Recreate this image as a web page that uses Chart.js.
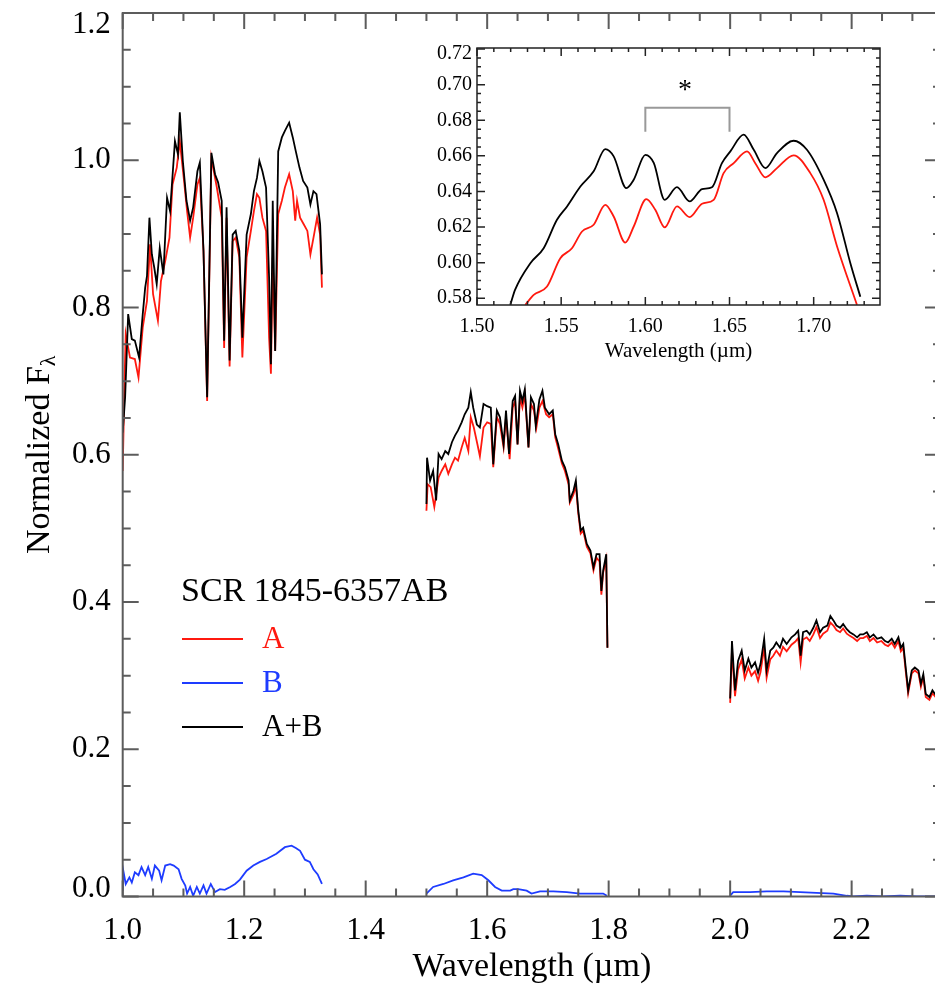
<!DOCTYPE html>
<html>
<head>
<meta charset="utf-8">
<script src="https://cdn.jsdelivr.net/npm/chart.js@4.4.1/dist/chart.umd.min.js"></script>
<style>
  html, body { margin: 0; padding: 0; background: #fff; overflow: hidden; }
  #wrap { position: relative; width: 935px; height: 987px; overflow: hidden; }
  #main { position: absolute; left: 0; top: 0; }
  #inset { position: absolute; left: 400px; top: 40px; }
</style>
</head>
<body>
<div id="wrap">
  <canvas id="main" width="945" height="987"></canvas>
  <canvas id="inset" width="500" height="330"></canvas>
</div>
<script>
// ---- data: [wavelength (um), normalized flux] ----
const jBandAB = [[1.000,0.630],[1.004,0.678],[1.009,0.791],[1.015,0.757],[1.020,0.755],[1.027,0.732],[1.033,0.791],[1.037,0.827],[1.040,0.843],[1.044,0.922],[1.048,0.872],[1.052,0.854],[1.056,0.832],[1.061,0.881],[1.067,0.845],[1.073,0.949],[1.078,0.931],[1.086,1.026],[1.091,1.008],[1.094,1.065],[1.099,0.999],[1.105,0.945],[1.111,0.918],[1.116,0.936],[1.123,0.985],[1.127,0.997],[1.133,0.877],[1.139,0.678],[1.146,1.010],[1.152,0.981],[1.157,0.970],[1.163,0.945],[1.167,0.755],[1.171,0.936],[1.176,0.728],[1.181,0.899],[1.186,0.904],[1.192,0.877],[1.197,0.759],[1.204,0.899],[1.211,0.927],[1.216,0.958],[1.221,0.976],[1.225,0.999],[1.230,0.985],[1.236,0.963],[1.241,0.841],[1.244,0.723],[1.247,0.945],[1.251,0.741],[1.256,1.012],[1.262,1.031],[1.267,1.040],[1.274,1.051],[1.280,1.031],[1.285,1.012],[1.291,0.990],[1.297,0.972],[1.304,0.963],[1.309,0.940],[1.314,0.958],[1.319,0.954],[1.325,0.913],[1.328,0.845]];
const jBandA = [[1.000,0.578],[1.003,0.700],[1.005,0.764],[1.012,0.732],[1.020,0.730],[1.026,0.705],[1.033,0.773],[1.040,0.809],[1.045,0.886],[1.050,0.818],[1.058,0.782],[1.063,0.836],[1.070,0.863],[1.077,0.895],[1.082,0.967],[1.089,0.990],[1.094,1.026],[1.101,0.972],[1.106,0.931],[1.111,0.895],[1.116,0.922],[1.123,0.967],[1.127,0.976],[1.133,0.877],[1.139,0.673],[1.146,1.003],[1.155,0.963],[1.163,0.922],[1.167,0.745],[1.171,0.922],[1.176,0.720],[1.181,0.890],[1.186,0.895],[1.192,0.868],[1.197,0.732],[1.204,0.868],[1.211,0.904],[1.216,0.931],[1.221,0.954],[1.225,0.949],[1.230,0.922],[1.236,0.904],[1.241,0.759],[1.244,0.710],[1.247,0.868],[1.251,0.741],[1.256,0.927],[1.262,0.945],[1.267,0.963],[1.274,0.981],[1.280,0.958],[1.284,0.918],[1.287,0.945],[1.292,0.922],[1.298,0.913],[1.304,0.904],[1.309,0.872],[1.315,0.899],[1.320,0.922],[1.325,0.899],[1.328,0.827]];
const jBandB = [[1.000,0.008],[1.001,0.035],[1.005,0.017],[1.011,0.026],[1.015,0.019],[1.020,0.033],[1.026,0.029],[1.031,0.040],[1.037,0.029],[1.042,0.040],[1.048,0.024],[1.053,0.042],[1.060,0.035],[1.064,0.022],[1.070,0.042],[1.078,0.044],[1.084,0.042],[1.092,0.037],[1.097,0.024],[1.103,0.015],[1.106,0.004],[1.111,0.013],[1.116,0.001],[1.122,0.013],[1.127,0.004],[1.133,0.015],[1.138,0.004],[1.145,0.017],[1.152,0.006],[1.160,0.010],[1.168,0.009],[1.177,0.013],[1.185,0.017],[1.193,0.023],[1.204,0.035],[1.215,0.042],[1.226,0.047],[1.237,0.051],[1.253,0.058],[1.267,0.067],[1.278,0.069],[1.285,0.066],[1.292,0.062],[1.300,0.050],[1.308,0.047],[1.314,0.037],[1.321,0.030],[1.328,0.017]];

const hBandAB = [[1.500,0.533],[1.501,0.596],[1.506,0.565],[1.511,0.578],[1.516,0.538],[1.520,0.601],[1.525,0.594],[1.531,0.605],[1.536,0.601],[1.542,0.617],[1.547,0.626],[1.552,0.633],[1.558,0.644],[1.563,0.655],[1.569,0.664],[1.573,0.685],[1.577,0.664],[1.583,0.641],[1.588,0.637],[1.594,0.669],[1.600,0.666],[1.606,0.664],[1.610,0.587],[1.616,0.660],[1.621,0.651],[1.627,0.614],[1.631,0.660],[1.636,0.601],[1.642,0.673],[1.646,0.680],[1.650,0.614],[1.654,0.687],[1.658,0.673],[1.662,0.689],[1.668,0.610],[1.672,0.678],[1.677,0.669],[1.680,0.639],[1.686,0.675],[1.691,0.687],[1.695,0.664],[1.702,0.655],[1.708,0.660],[1.712,0.628],[1.717,0.614],[1.723,0.592],[1.728,0.583],[1.734,0.565],[1.736,0.538],[1.742,0.551],[1.746,0.565],[1.750,0.524],[1.754,0.497],[1.758,0.501],[1.764,0.479],[1.770,0.470],[1.775,0.447],[1.780,0.465],[1.785,0.465],[1.788,0.415],[1.791,0.443],[1.796,0.465],[1.798,0.338]];
const hBandA = [[1.500,0.524],[1.502,0.560],[1.507,0.556],[1.513,0.529],[1.520,0.569],[1.525,0.578],[1.531,0.587],[1.536,0.574],[1.542,0.587],[1.547,0.596],[1.552,0.592],[1.558,0.610],[1.563,0.623],[1.569,0.605],[1.573,0.651],[1.578,0.637],[1.584,0.614],[1.588,0.598],[1.594,0.637],[1.600,0.644],[1.606,0.642],[1.610,0.583],[1.616,0.651],[1.621,0.642],[1.627,0.610],[1.631,0.651],[1.637,0.594],[1.642,0.664],[1.646,0.673],[1.650,0.614],[1.654,0.678],[1.658,0.664],[1.662,0.682],[1.668,0.610],[1.672,0.669],[1.677,0.660],[1.681,0.637],[1.686,0.664],[1.691,0.673],[1.697,0.655],[1.702,0.651],[1.708,0.655],[1.712,0.624],[1.717,0.608],[1.723,0.588],[1.728,0.578],[1.734,0.560],[1.736,0.535],[1.742,0.546],[1.746,0.558],[1.750,0.520],[1.754,0.493],[1.758,0.497],[1.764,0.475],[1.770,0.466],[1.775,0.443],[1.780,0.460],[1.785,0.455],[1.788,0.410],[1.791,0.440],[1.796,0.458],[1.798,0.338]];
const hBandB = [[1.500,0.004],[1.511,0.013],[1.528,0.017],[1.544,0.022],[1.561,0.026],[1.577,0.031],[1.584,0.030],[1.591,0.029],[1.602,0.022],[1.613,0.013],[1.624,0.008],[1.638,0.008],[1.643,0.010],[1.651,0.010],[1.665,0.008],[1.673,0.004],[1.687,0.007],[1.709,0.007],[1.731,0.006],[1.753,0.004],[1.775,0.004],[1.791,0.004],[1.797,0.001]];

const kBandAB = [[2.000,0.269],[2.003,0.347],[2.008,0.280],[2.013,0.320],[2.019,0.334],[2.024,0.307],[2.030,0.323],[2.035,0.311],[2.041,0.318],[2.046,0.304],[2.050,0.316],[2.056,0.350],[2.060,0.307],[2.066,0.334],[2.071,0.338],[2.076,0.345],[2.082,0.338],[2.087,0.350],[2.093,0.343],[2.101,0.352],[2.107,0.356],[2.112,0.361],[2.116,0.327],[2.120,0.359],[2.126,0.361],[2.131,0.356],[2.137,0.365],[2.142,0.375],[2.148,0.359],[2.153,0.365],[2.160,0.368],[2.165,0.381],[2.170,0.375],[2.175,0.368],[2.181,0.365],[2.186,0.370],[2.192,0.363],[2.197,0.359],[2.203,0.356],[2.209,0.352],[2.214,0.356],[2.219,0.356],[2.225,0.359],[2.230,0.352],[2.236,0.356],[2.242,0.350],[2.249,0.352],[2.255,0.347],[2.260,0.345],[2.266,0.350],[2.271,0.343],[2.277,0.352],[2.281,0.338],[2.285,0.343],[2.289,0.311],[2.293,0.280],[2.299,0.307],[2.304,0.311],[2.310,0.307],[2.314,0.289],[2.318,0.302],[2.322,0.275],[2.328,0.271],[2.333,0.280],[2.339,0.273],[2.345,0.276]];
const kBandA = [[2.000,0.263],[2.003,0.335],[2.008,0.272],[2.013,0.308],[2.019,0.322],[2.024,0.296],[2.030,0.311],[2.035,0.300],[2.041,0.306],[2.046,0.293],[2.050,0.305],[2.056,0.338],[2.060,0.297],[2.066,0.322],[2.071,0.327],[2.076,0.334],[2.082,0.327],[2.087,0.339],[2.093,0.333],[2.101,0.342],[2.107,0.346],[2.112,0.351],[2.116,0.318],[2.120,0.349],[2.126,0.352],[2.131,0.347],[2.137,0.356],[2.142,0.366],[2.148,0.351],[2.153,0.357],[2.160,0.361],[2.165,0.372],[2.170,0.368],[2.175,0.362],[2.181,0.359],[2.186,0.364],[2.192,0.357],[2.197,0.354],[2.203,0.351],[2.209,0.347],[2.214,0.351],[2.219,0.351],[2.225,0.354],[2.230,0.347],[2.236,0.351],[2.242,0.345],[2.249,0.347],[2.255,0.342],[2.260,0.340],[2.266,0.345],[2.271,0.338],[2.277,0.347],[2.281,0.333],[2.285,0.338],[2.289,0.306],[2.293,0.276],[2.299,0.303],[2.304,0.307],[2.310,0.303],[2.314,0.285],[2.318,0.298],[2.322,0.271],[2.328,0.267],[2.333,0.276],[2.339,0.270],[2.345,0.272]];
const kBandB = [[2.000,0.001],[2.005,0.006],[2.033,0.006],[2.060,0.007],[2.088,0.007],[2.115,0.006],[2.142,0.005],[2.170,0.004],[2.192,0.001],[2.203,0.000],[2.225,0.001],[2.252,0.000],[2.280,0.001],[2.307,0.000],[2.345,0.000]];

// inset (smoothed H band)
const insetAB = [[1.5198,0.5763],[1.5226,0.5847],[1.5317,0.5997],[1.5396,0.6081],[1.5475,0.6241],[1.5535,0.6316],[1.5614,0.6428],[1.5693,0.6513],[1.5762,0.6638],[1.5812,0.6597],[1.5887,0.6419],[1.5931,0.6466],[1.6000,0.6606],[1.6050,0.6560],[1.6115,0.6353],[1.6188,0.6424],[1.6263,0.6344],[1.6337,0.6413],[1.6396,0.6424],[1.6455,0.6559],[1.6505,0.6625],[1.6584,0.6719],[1.6644,0.6634],[1.6713,0.6531],[1.6782,0.6616],[1.6881,0.6685],[1.6960,0.6634],[1.7059,0.6466],[1.7139,0.6278],[1.7218,0.5997],[1.7277,0.5809]];
const insetA = [[1.5287,0.5763],[1.5337,0.5819],[1.5416,0.5866],[1.5495,0.6025],[1.5564,0.6081],[1.5624,0.6175],[1.5693,0.6213],[1.5762,0.6325],[1.5812,0.6259],[1.5881,0.6113],[1.5931,0.6203],[1.6006,0.6357],[1.6059,0.6297],[1.6115,0.6198],[1.6188,0.6316],[1.6263,0.6256],[1.6337,0.6331],[1.6406,0.6353],[1.6465,0.6503],[1.6525,0.6559],[1.6604,0.6625],[1.6653,0.6559],[1.6713,0.6479],[1.6782,0.6531],[1.6881,0.6603],[1.6980,0.6503],[1.7059,0.6353],[1.7139,0.6091],[1.7257,0.5763]];
const bracketRange = [1.60, 1.65];

// tick labels
const xTicks = [1.0, 1.2, 1.4, 1.6, 1.8, 2.0, 2.2];
const yTicks = [0.0, 0.2, 0.4, 0.6, 0.8, 1.0, 1.2];
const insetXTicks = [1.50, 1.55, 1.60, 1.65, 1.70];
const insetYTicks = [0.58, 0.60, 0.62, 0.64, 0.66, 0.68, 0.70, 0.72];

const serif = "'Liberation Serif', 'DejaVu Serif', serif";
const RED = 'rgb(255,25,15)';
const BLUE = 'rgb(30,60,255)';
const AXIS = '#5c5c5c';

const pts = arr => arr.map(p => ({x: p[0], y: p[1]}));
const line = (arr, color, order) => ({
    data: pts(arr), borderColor: color, borderWidth: 1.8,
    pointRadius: 0, fill: false, tension: 0, order: order
});

// inward ticks on all four sides of the plot box
function drawBoxTicks(chart, opt) {
    const {ctx, chartArea: a, scales: {x, y}} = chart;
    ctx.save();
    ctx.strokeStyle = opt.color;
    ctx.lineWidth = opt.width;
    ctx.strokeRect(a.left, a.top, a.right - a.left, a.bottom - a.top);
    ctx.beginPath();
    const nx = Math.round((x.max - x.min) / opt.xMinor) + 1;
    for (let i = 0; i < nx; i++) {
        const v = x.min + i * opt.xMinor;
        if (v > x.max + 1e-9) break;
        const major = Math.abs(v / opt.xMajor - Math.round(v / opt.xMajor)) < 1e-6;
        const len = major ? opt.major : opt.minor;
        const px = x.getPixelForValue(v);
        ctx.moveTo(px, a.bottom); ctx.lineTo(px, a.bottom - len);
        ctx.moveTo(px, a.top); ctx.lineTo(px, a.top + len);
    }
    const ny = Math.round((y.max - y.min) / opt.yMinor) + 2;
    const y0 = Math.ceil(y.min / opt.yMinor - 1e-6) * opt.yMinor;
    for (let i = 0; i < ny; i++) {
        const v = y0 + i * opt.yMinor;
        if (v > y.max + 1e-9) break;
        const major = Math.abs(v / opt.yMajor - Math.round(v / opt.yMajor)) < 1e-6;
        const len = major ? opt.major : opt.minor;
        const py = y.getPixelForValue(v);
        ctx.moveTo(a.left, py); ctx.lineTo(a.left + len, py);
        ctx.moveTo(a.right, py); ctx.lineTo(a.right - len, py);
    }
    ctx.stroke();
    ctx.restore();
}

// y labels, kept inside the axis extent like the original plot does
function drawYLabels(chart, values, opt) {
    const {ctx, chartArea: a, scales: {y}} = chart;
    ctx.save();
    ctx.fillStyle = '#000';
    ctx.font = opt.size + 'px ' + serif;
    ctx.textAlign = 'right';
    ctx.textBaseline = 'middle';
    values.forEach(v => {
        let py = y.getPixelForValue(v);
        py = Math.min(Math.max(py, a.top + opt.clampTop), a.bottom - opt.clampBottom);
        ctx.fillText(v.toFixed(opt.digits), a.left - opt.pad, py);
    });
    ctx.restore();
}

const noEdgePad = s => { s.paddingTop = 0; s.paddingBottom = 0; s.paddingLeft = 0; s.paddingRight = 0; };

const mainDecor = {
    id: 'mainDecor',
    afterDraw(chart) {
        drawBoxTicks(chart, {color: AXIS, width: 2, xMinor: 0.05, xMajor: 0.2, yMinor: 0.05, yMajor: 0.2, major: 16, minor: 8});
        drawYLabels(chart, yTicks, {size: 31, digits: 1, pad: 12, clampTop: 12, clampBottom: 8});
        const {ctx, chartArea: a} = chart;
        ctx.save();
        // y axis title with subscript lambda
        ctx.fillStyle = '#000';
        ctx.translate(40, (a.top + a.bottom) / 2);
        ctx.rotate(-Math.PI / 2);
        ctx.font = '34px ' + serif;
        const main = 'Normalized F';
        const w1 = ctx.measureText(main).width;
        ctx.font = '22px ' + serif;
        const w2 = ctx.measureText('λ').width;
        const start = -(w1 + w2) / 2;
        ctx.textBaseline = 'middle';
        ctx.textAlign = 'left';
        ctx.font = '34px ' + serif;
        ctx.fillText(main, start, 0);
        ctx.font = '22px ' + serif;
        ctx.fillText('λ', start + w1, 9);
        ctx.restore();

        // legend
        ctx.save();
        ctx.textBaseline = 'middle';
        ctx.textAlign = 'left';
        ctx.font = '34px ' + serif;
        ctx.fillStyle = '#000';
        ctx.fillText('SCR 1845-6357AB', 181, 592);
        const rows = [['A', RED, 639], ['B', BLUE, 683], ['A+B', '#000', 727]];
        ctx.font = '31px ' + serif;
        rows.forEach(r => {
            ctx.strokeStyle = r[1];
            ctx.lineWidth = 2;
            ctx.beginPath();
            ctx.moveTo(182, r[2]); ctx.lineTo(243, r[2]);
            ctx.stroke();
            ctx.fillStyle = r[1];
            ctx.fillText(r[0], 262, r[2] + 1);
        });
        ctx.restore();
    }
};

new Chart(document.getElementById('main'), {
    type: 'line',
    data: {
        datasets: [
            line(jBandAB, '#000', 1), line(hBandAB, '#000', 1), line(kBandAB, '#000', 1),
            line(jBandA, RED, 2), line(hBandA, RED, 2), line(kBandA, RED, 2),
            line(jBandB, BLUE, 3), line(hBandB, BLUE, 3), line(kBandB, BLUE, 3)
        ]
    },
    options: {
        responsive: false,
        animation: false,
        layout: {padding: {top: 13, right: 4, left: 0, bottom: 0}},
        plugins: {legend: {display: false}, tooltip: {enabled: false}},
        scales: {
            x: {
                type: 'linear', min: 1.0, max: 2.3471,
                grid: {display: false, drawTicks: false},
                border: {display: false},
                afterBuildTicks: s => { s.ticks = xTicks.map(v => ({value: v})); },
                afterFit: s => { s.height = 90.5; noEdgePad(s); },
                ticks: {
                    font: {family: serif, size: 31}, color: '#000', padding: 16,
                    maxRotation: 0, autoSkip: false, callback: v => v.toFixed(1)
                },
                title: {
                    display: true, text: 'Wavelength (µm)', color: '#000',
                    font: {family: serif, size: 34}, padding: {top: 0, bottom: 0}
                }
            },
            y: {
                type: 'linear', min: 0, max: 1.2,
                grid: {display: false, drawTicks: false},
                border: {display: false},
                afterBuildTicks: s => { s.ticks = yTicks.map(v => ({value: v})); },
                afterFit: s => { s.width = 122.7; noEdgePad(s); },
                ticks: {display: false}
            }
        }
    },
    plugins: [mainDecor]
});

const insetDecor = {
    id: 'insetDecor',
    afterDraw(chart) {
        drawBoxTicks(chart, {color: '#222', width: 1.5, xMinor: 0.01, xMajor: 0.05, yMinor: 0.005, yMajor: 0.02, major: 8, minor: 4});
        drawYLabels(chart, insetYTicks, {size: 20, digits: 2, pad: 5, clampTop: 6, clampBottom: 0});
        const {ctx, scales: {x, y}} = chart;
        ctx.save();
        ctx.strokeStyle = '#999';
        ctx.lineWidth = 2;
        ctx.beginPath();
        ctx.moveTo(x.getPixelForValue(bracketRange[0]), y.getPixelForValue(0.6735));
        ctx.lineTo(x.getPixelForValue(bracketRange[0]), y.getPixelForValue(0.687));
        ctx.lineTo(x.getPixelForValue(bracketRange[1]), y.getPixelForValue(0.687));
        ctx.lineTo(x.getPixelForValue(bracketRange[1]), y.getPixelForValue(0.6735));
        ctx.stroke();
        ctx.fillStyle = '#000';
        ctx.font = '28px ' + serif;
        ctx.textAlign = 'center';
        ctx.textBaseline = 'middle';
        ctx.fillText('*', x.getPixelForValue(1.6236), y.getPixelForValue(0.6965));
        ctx.restore();
    }
};

new Chart(document.getElementById('inset'), {
    type: 'line',
    data: {
        datasets: [
            {data: pts(insetAB), borderColor: '#000', borderWidth: 1.8, pointRadius: 0, tension: 0.4, cubicInterpolationMode: 'monotone', order: 1},
            {data: pts(insetA), borderColor: RED, borderWidth: 1.8, pointRadius: 0, tension: 0.4, cubicInterpolationMode: 'monotone', order: 2}
        ]
    },
    options: {
        responsive: false,
        animation: false,
        layout: {padding: {top: 8, right: 20, left: 0, bottom: 0}},
        plugins: {legend: {display: false}, tooltip: {enabled: false}},
        scales: {
            x: {
                type: 'linear', min: 1.50, max: 1.7394,
                grid: {display: false, drawTicks: false},
                border: {display: false},
                afterBuildTicks: s => { s.ticks = insetXTicks.map(v => ({value: v})); },
                afterFit: s => { s.height = 65; noEdgePad(s); },
                ticks: {
                    font: {family: serif, size: 20}, color: '#000', padding: 10,
                    maxRotation: 0, autoSkip: false, callback: v => v.toFixed(2)
                },
                title: {
                    display: true, text: 'Wavelength (µm)', color: '#000',
                    font: {family: serif, size: 21}, padding: {top: 0, bottom: 6}
                }
            },
            y: {
                type: 'linear', min: 0.5762, max: 0.7206,
                grid: {display: false, drawTicks: false},
                border: {display: false},
                afterBuildTicks: s => { s.ticks = insetYTicks.map(v => ({value: v})); },
                afterFit: s => { s.width = 77; noEdgePad(s); },
                ticks: {display: false}
            }
        }
    },
    plugins: [insetDecor]
});
</script>
</body>
</html>
